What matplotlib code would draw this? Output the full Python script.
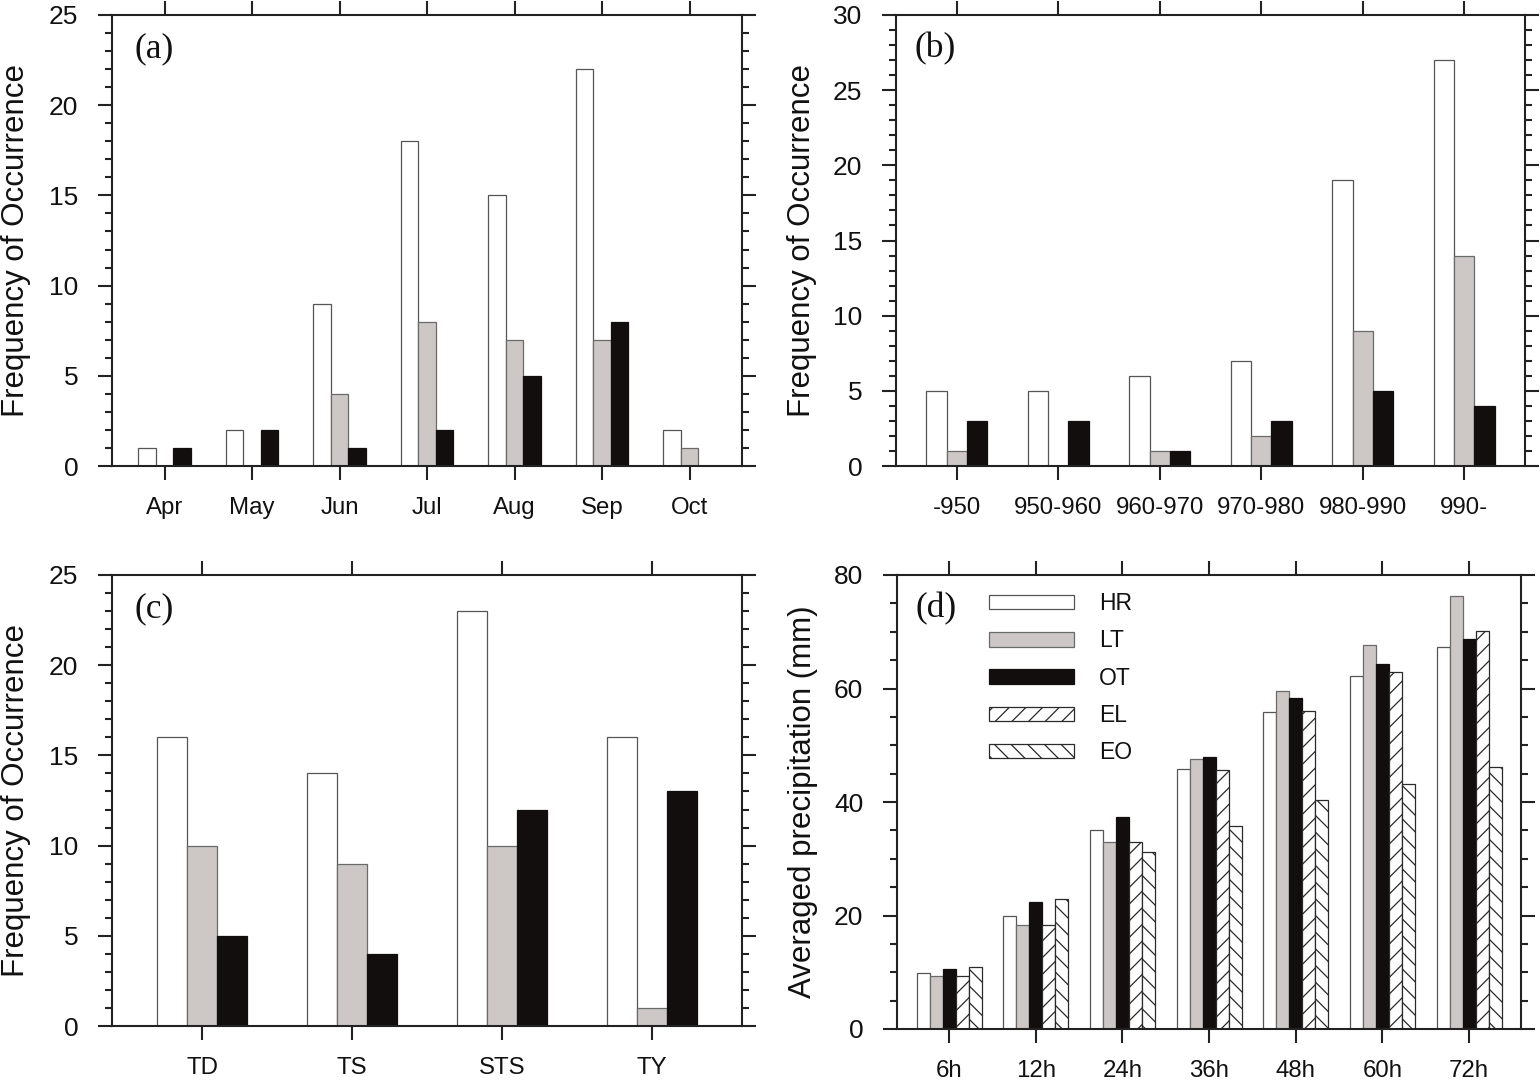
import matplotlib
matplotlib.use("Agg")
import matplotlib.pyplot as plt
import numpy as np
from matplotlib.ticker import MultipleLocator

plt.rcParams['font.family'] = ['Liberation Sans', 'DejaVu Sans']
plt.rcParams['hatch.linewidth'] = 0.6

# ---------------- data ----------------
series_names = ["HR", "LT", "OT"]

months = ["Apr", "May", "Jun", "Jul", "Aug", "Sep", "Oct"]
a_HR = [1, 2, 9, 18, 15, 22, 2]
a_LT = [0, 0, 4, 8, 7, 7, 1]
a_OT = [1, 2, 1, 2, 5, 8, 0]

pressure = ["-950", "950-960", "960-970", "970-980", "980-990", "990-"]
b_HR = [5, 5, 6, 7, 19, 27]
b_LT = [1, 0, 1, 2, 9, 14]
b_OT = [3, 3, 1, 3, 5, 4]

intensity = ["TD", "TS", "STS", "TY"]
c_HR = [16, 14, 23, 16]
c_LT = [10, 9, 10, 1]
c_OT = [5, 4, 12, 13]

hours = ["6h", "12h", "24h", "36h", "48h", "60h", "72h"]
d_names = ["HR", "LT", "OT", "EL", "EO"]
d_HR = [9.9, 20.0, 35.1, 45.9, 55.8, 62.2, 67.4]
d_LT = [9.3, 18.3, 32.9, 47.5, 59.6, 67.6, 76.3]
d_OT = [10.6, 22.3, 37.3, 47.9, 58.3, 64.3, 68.8]
d_EL = [9.3, 18.3, 33.0, 45.6, 56.0, 62.9, 70.1]
d_EO = [11.0, 22.9, 31.2, 35.7, 40.4, 43.2, 46.1]

# ---------------- styles ----------------
WHITE = "#ffffff"
GRAY = "#cdc8c6"
BLACK = "#120e0d"
styles = {
    "HR": dict(color=WHITE, edgecolor="#555555", hatch=None),
    "LT": dict(color=GRAY, edgecolor="#6a6a6a", hatch=None),
    "OT": dict(color=BLACK, edgecolor="#120e0d", hatch=None),
    "EL": dict(color=WHITE, edgecolor="#2a2a2a", hatch="///"),
    "EO": dict(color=WHITE, edgecolor="#2a2a2a", hatch="\\\\\\"),
}

W, H = 1540, 1082
DPI = 150
fig = plt.figure(figsize=(W / DPI, H / DPI), dpi=DPI)

def px_axes(left, right, top, bottom):
    return fig.add_axes([left / W, 1 - bottom / H, (right - left) / W, (bottom - top) / H])

TICK_FS = 12.7
XTICK_FS = 11.5
LABEL_FS = 15
PANEL_FS = 17

def style_axes(ax, cats, ymax, major, minor, ylabel, label_x):
    n = len(cats)
    ax.set_xlim(-0.6, n - 1 + 0.6)
    ax.set_ylim(0, ymax)
    ax.set_xticks(np.arange(n))
    ax.set_xticklabels(cats, fontsize=XTICK_FS)
    ax.yaxis.set_major_locator(MultipleLocator(major))
    ax.yaxis.set_minor_locator(MultipleLocator(minor))
    for lab in ax.get_yticklabels():
        lab.set_fontsize(TICK_FS)
    for s in ax.spines.values():
        s.set_linewidth(1.0)
        s.set_color("#222222")
    ax.tick_params(axis='x', which='major', direction='out', length=6.7, width=1.0,
                   top=True, bottom=True, pad=8, colors="#222222", labelcolor="#111111")
    ax.tick_params(axis='x', which='minor', bottom=False, top=False)
    ax.tick_params(axis='y', which='major', direction='out', length=6.7, width=1.0,
                   left=True, right=True, pad=9.5, colors="#222222", labelcolor="#111111",
                   labelsize=TICK_FS)
    ax.tick_params(axis='y', which='minor', direction='out', length=3.4, width=1.0,
                   left=True, right=True, colors="#222222")
    ax.set_ylabel(ylabel, fontsize=LABEL_FS, color="#111111")
    ax.yaxis.set_label_coords(label_x, 0.5)

def grouped(ax, cats, values, names, width):
    x = np.arange(len(cats))
    k = len(values)
    handles = []
    for i, (vals, name) in enumerate(zip(values, names)):
        st = styles[name]
        off = (i - (k - 1) / 2) * width
        b = ax.bar(x + off, vals, width=width, color=st["color"], edgecolor=st["edgecolor"],
                   hatch=st["hatch"], linewidth=0.6, label=name, zorder=2)
        handles.append(b)
    return handles

def panel_label(ax, text, xf, yf):
    ax.text(xf, yf, text, transform=ax.transAxes, fontsize=PANEL_FS,
            family=['Liberation Serif', 'DejaVu Serif'], ha='left', va='center', color="#111111")

# (a)
ax_a = px_axes(112, 742, 15, 466)
grouped(ax_a, months, [a_HR, a_LT, a_OT], series_names, 0.2)
style_axes(ax_a, months, 25, 5, 1, "Frequency of Occurrence", -0.128)
panel_label(ax_a, "(a)", 0.036, 0.925)

# (b)
ax_b = px_axes(896, 1525, 15, 466)
grouped(ax_b, pressure, [b_HR, b_LT, b_OT], series_names, 0.2)
style_axes(ax_b, pressure, 30, 5, 1, "Frequency of Occurrence", -0.126)
panel_label(ax_b, "(b)", 0.030, 0.925)

# (c)
ax_c = px_axes(112, 742, 575, 1026)
grouped(ax_c, intensity, [c_HR, c_LT, c_OT], series_names, 0.2)
style_axes(ax_c, intensity, 25, 5, 1, "Frequency of Occurrence", -0.128)
panel_label(ax_c, "(c)", 0.036, 0.925)

# (d)
ax_d = px_axes(897, 1521, 575, 1029)
hd = grouped(ax_d, hours, [d_HR, d_LT, d_OT, d_EL, d_EO], d_names, 0.15)
style_axes(ax_d, hours, 80, 20, 5, "Averaged precipitation (mm)", -0.127)
panel_label(ax_d, "(d)", 0.030, 0.925)
leg = ax_d.legend(handles=hd, labels=d_names, loc='upper left', bbox_to_anchor=(0.1477, 0.962),
                  frameon=False, fontsize=11, handlelength=3.7, handleheight=0.6,
                  handletextpad=1.1, labelspacing=0.62, borderpad=0, borderaxespad=0)
for t in leg.get_texts():
    t.set_color("#111111")

fig.savefig("out.png", dpi=DPI)
